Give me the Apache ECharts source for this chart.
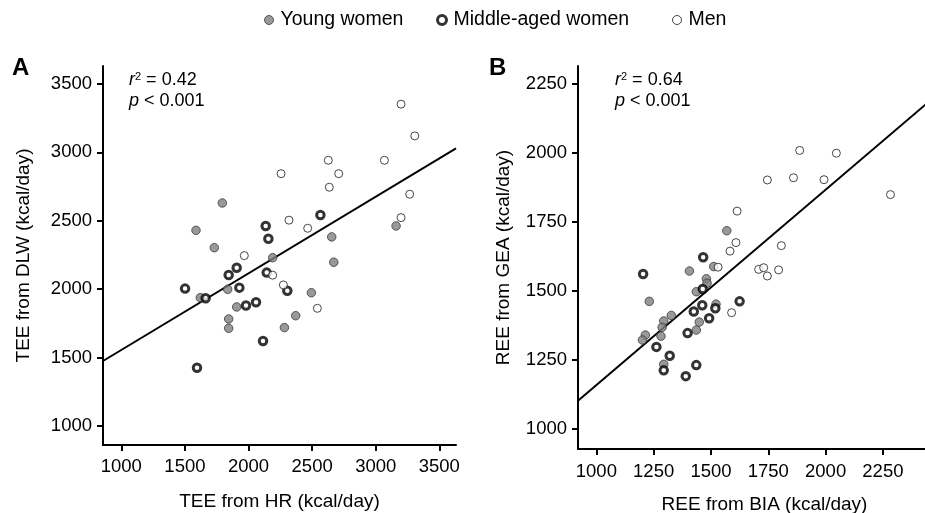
<!DOCTYPE html>
<html>
<head>
<meta charset="utf-8">
<script src="https://cdn.jsdelivr.net/npm/echarts@6/dist/echarts.min.js"></script>
<style>
  html, body { margin: 0; padding: 0; background: #fff; }
  #chart { width: 925px; height: 513px; }
</style>
</head>
<body>
<div id="chart"></div>
<script>
// Panel A: TEE from HR (x) vs TEE from DLW (y), kcal/day
const youngWomenA = [
  [1794, 2630], [1587, 2430], [1731, 2303], [2190, 2230], [2654, 2382],
  [2670, 2197], [3160, 2462], [1836, 1999], [1621, 1938], [1907, 1870],
  [1844, 1782], [1844, 1714], [2282, 1719], [2371, 1806], [2494, 1974]
]
const middleAgedA = [
  [1501, 2004], [1663, 1933], [1844, 2104], [1907, 2157], [1928, 2011],
  [1980, 1880], [2059, 1904], [2143, 2121], [2305, 1989], [2114, 1621],
  [1595, 1426], [2135, 2462], [2156, 2369], [2565, 2542]
]
const menA = [
  [3199, 3352], [3307, 3120], [3068, 2942], [2627, 2942], [2256, 2844],
  [2709, 2844], [2635, 2745], [3267, 2694], [3199, 2523], [2318, 2504],
  [2465, 2445], [1967, 2245], [2190, 2102], [2274, 2031], [2541, 1860]
]
const fitA = [[856, 1475], [3631, 3029]]

// Panel B: REE from BIA (x) vs REE from GEA (y), kcal/day
const youngWomenB = [
  [1569, 1718], [1406, 1572], [1512, 1588], [1480, 1544], [1483, 1528],
  [1436, 1497], [1522, 1452], [1449, 1387], [1436, 1358], [1231, 1462],
  [1327, 1411], [1294, 1391], [1287, 1368], [1282, 1336], [1214, 1340],
  [1201, 1322], [1294, 1234]
]
const middleAgedB = [
  [1204, 1561], [1466, 1622], [1464, 1507], [1462, 1448], [1425, 1425],
  [1519, 1437], [1492, 1401], [1625, 1462], [1398, 1347], [1262, 1297],
  [1320, 1265], [1294, 1212], [1436, 1231], [1390, 1191]
]
const menB = [
  [1887, 2009], [2047, 1999], [1746, 1902], [1860, 1910], [1993, 1903],
  [2283, 1849], [1614, 1789], [1609, 1675], [1583, 1644], [1807, 1664],
  [1708, 1578], [1730, 1584], [1746, 1554], [1795, 1576], [1531, 1586],
  [1590, 1421]
]
const fitB = [[920, 1102], [2547, 2254]]

const ticksA = [1000, 1500, 2000, 2500, 3000, 3500]
const ticksB = [1000, 1250, 1500, 1750, 2000, 2250]

const FONT = 'Liberation Sans, Arial, Helvetica, sans-serif'

const styles = {
  'Young women': { color: '#808080', borderColor: '#3a3a3a', borderWidth: 1 },
  'Middle-aged women': { color: '#ffffff', borderColor: '#000000', borderWidth: 3 },
  'Men': { color: '#ffffff', borderColor: '#1a1a1a', borderWidth: 1 }
}
const sizes = { 'Young women': 8.5, 'Middle-aged women': 7.5, 'Men': 8 }

function axis(gridIndex, min, max, ticks, name, nameGap, margin) {
  return {
    type: 'value',
    gridIndex,
    min,
    max,
    name,
    nameLocation: 'middle',
    nameGap,
    nameTextStyle: { color: '#000', fontSize: 19, fontFamily: FONT },
    axisLine: { show: true, onZero: false, lineStyle: { color: '#000', width: 2 } },
    axisTick: { show: true, length: 6, customValues: ticks, lineStyle: { color: '#000', width: 2 } },
    axisLabel: {
      customValues: ticks, margin, color: '#000', fontSize: 18.5, fontFamily: FONT,
      formatter: v => String(v)
    },
    splitLine: { show: false }
  }
}

function scatter(name, data, idx) {
  return {
    name,
    type: 'scatter',
    xAxisIndex: idx,
    yAxisIndex: idx,
    data,
    symbol: 'circle',
    symbolSize: sizes[name],
    itemStyle: styles[name],
    emphasis: { disabled: true },
    z: 3
  }
}

function fitLine(data, idx) {
  return {
    type: 'line',
    xAxisIndex: idx,
    yAxisIndex: idx,
    data,
    showSymbol: false,
    clip: true,
    lineStyle: { color: '#000', width: 2 },
    emphasis: { disabled: true },
    z: 2
  }
}

function legendFor(name, left) {
  return {
    left,
    top: 10,
    padding: 0,
    itemWidth: 13,
    itemHeight: 9,
    selectedMode: false,
    data: [{ name, icon: 'circle', itemStyle: styles[name] }],
    textStyle: { color: '#000', fontSize: 19.5, fontFamily: FONT, lineHeight: 18 }
  }
}

function annotation(x, r2) {
  return [
    {
      type: 'text', left: x, top: 71,
      style: {
        text: '{i|r}{s|2}{n| = ' + r2 + '}',
        rich: {
          i: { fontStyle: 'italic', fontSize: 18, fontFamily: FONT, fill: '#000', lineHeight: 18 },
          s: { fontSize: 11, fontFamily: FONT, fill: '#000', verticalAlign: 'top', lineHeight: 18, padding: [0, 0, 6, 0] },
          n: { fontSize: 18, fontFamily: FONT, fill: '#000', lineHeight: 18 }
        }
      }
    },
    {
      type: 'text', left: x, top: 92,
      style: {
        text: '{i|p}{n| < 0.001}',
        rich: {
          i: { fontStyle: 'italic', fontSize: 18, fontFamily: FONT, fill: '#000', lineHeight: 18 },
          n: { fontSize: 18, fontFamily: FONT, fill: '#000', lineHeight: 18 }
        }
      }
    }
  ]
}

const chart = echarts.init(document.getElementById('chart'))
chart.setOption({
  animation: false,
  backgroundColor: '#fff',
  legend: [
    legendFor('Young women', 264),
    legendFor('Middle-aged women', 436),
    legendFor('Men', 672)
  ],
  grid: [
    { left: 103, top: 66, width: 353, height: 379, outerBoundsMode: 'none' },
    { left: 578, top: 66, width: 373, height: 383, outerBoundsMode: 'none' }
  ],
  xAxis: [
    axis(0, 856, 3631, ticksA, 'TEE from HR (kcal/day)', 47, 12),
    axis(1, 920, 2547, ticksB, 'REE from BIA (kcal/day)', 46, 13)
  ],
  yAxis: [
    axis(0, 861, 3631, ticksA, 'TEE from DLW (kcal/day)', 70, 11),
    axis(1, 927, 2315, ticksB, 'REE from GEA (kcal/day)', 65, 11)
  ],
  graphic: [
    { type: 'text', left: 12, top: 56, style: { text: 'A', fontSize: 24, fontWeight: 'bold', fontFamily: FONT, fill: '#000' } },
    { type: 'text', left: 489, top: 56, style: { text: 'B', fontSize: 24, fontWeight: 'bold', fontFamily: FONT, fill: '#000' } },
    ...annotation(129, '0.42'),
    ...annotation(615, '0.64')
  ],
  series: [
    fitLine(fitA, 0),
    scatter('Young women', youngWomenA, 0),
    scatter('Middle-aged women', middleAgedA, 0),
    scatter('Men', menA, 0),
    fitLine(fitB, 1),
    scatter('Young women', youngWomenB, 1),
    scatter('Middle-aged women', middleAgedB, 1),
    scatter('Men', menB, 1)
  ]
})
</script>
</body>
</html>
